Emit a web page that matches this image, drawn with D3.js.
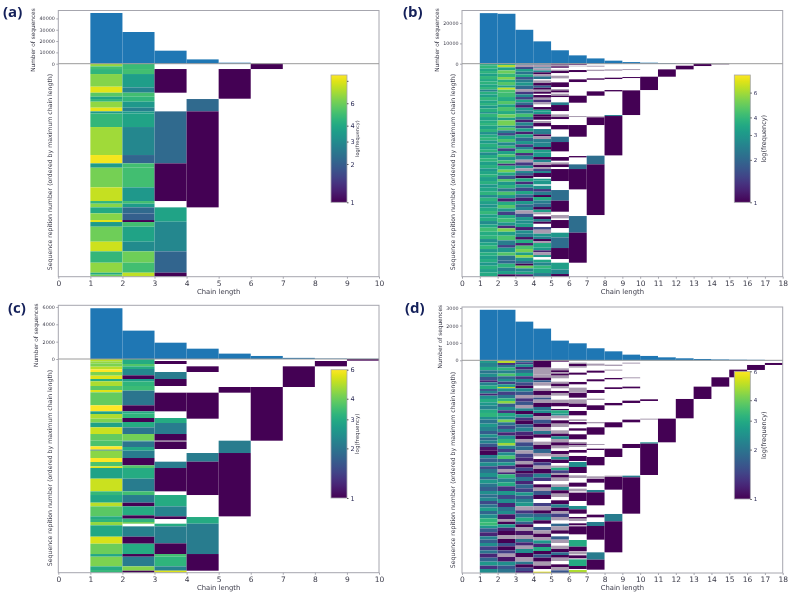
<!DOCTYPE html>
<html><head><meta charset="utf-8">
<script src="https://cdn.jsdelivr.net/npm/d3@7"></script>
<style>html,body{margin:0;padding:0;background:#fff}svg{display:block;filter:blur(0.45px)}</style>
</head><body><svg id="c" width="791" height="596"></svg>
<script>
const F = -1; // faint, sub-pixel stripes that read as pale lavender-grey
// ---- bars: number of sequences per chain length (chain length 1, 2, ...)
const barsA = [44800,28000,11500,3800,900,60];
const barsB = [24900,24600,16700,11000,6600,4100,2600,1500,800,500,300,150,80,40];
const barsC = [5850,3270,1880,1190,620,350,130,50,25];
const barsD = [2900,2900,2220,1820,1130,975,690,515,325,250,170,115,75,50,35,28,15];
// ---- heat columns: runs of [last row, frequency]; 0 = empty
const a1 = [[8,7],[16,5],[31,4.5],[69,6.5],[87,9],[99,5.5],[106,3.8],[114,4.5],[132,6.8],[143,9.2],[149,3.4],[190,4.6],[274,7.2],[299,9.6],[312,3.5],[371,6.2],[412,8.2],[420,4.5],[431,6.6],[449,4],[469,6.6],[475,9],[489,3.5],[534,6],[563,8.4],[597,4.6],[627,6.8],[633,4],[639,6]];
const a2 = [[16,4.8],[31,5],[71,3.6],[87,2.8],[99,5],[114,4.5],[132,3.4],[143,2.7],[149,3.5],[190,3.8],[274,2.9],[299,2.1],[312,5],[371,5],[412,3.4],[420,5],[431,3.5],[449,2.2],[469,2],[475,1],[489,5],[534,3.8],[563,3],[597,6],[627,5],[639,8]];
const a3 = [[16,0],[87,1],[143,0],[299,2.2],[412,1],[431,0],[474,3.8],[563,2.9],[627,2.1],[639,1]];
const a4 = [[106,0],[143,2.2],[431,1],[639,0]];
const a5 = [[16,0],[105,1],[639,0]];
const a6 = [[16,1],[639,0]];
const b1 = [[6,3.6],[14,3.9],[22,3.4],[30,3.8],[37,3.2],[46,3.9],[53,3.5],[62,3.8],[70,3.4],[78,3.9],[84,2.5],[92,3.7],[100,3.2],[110,3.9],[118,3.4],[126,3.8],[134,3],[145,3.7],[150,2.8],[160,3.9],[170,3.3],[178,3.6],[186,3.9],[196,3.3],[205,3.8],[213,2.8],[222,3.6],[230,3.9],[240,3.1],[250,3.7],[258,3.3],[266,3.8],[274,2.7],[284,3.5],[294,3.9],[304,3.2],[314,3.7],[322,3],[332,3.4],[340,3.8],[352,3.2],[362,3.7],[372,3],[384,3.4],[394,3.8],[402,2.6],[412,3.8],[422,3.2],[432,2.9],[442,3.5],[452,4],[462,3.2],[472,3.6],[482,2.7],[492,3.4],[504,4.2],[516,3.6],[526,3.9],[536,2.8],[546,3.4],[556,4],[566,3],[576,3.7],[586,3.2],[596,3.6],[606,3],[616,3.7],[626,3.2],[639,3.5]];
const b2 = [[4,3.6],[11,6.2],[20,3.3],[30,5],[40,4],[48,5.4],[55,3.7],[65,4.6],[72,3.3],[78,6.5],[86,4.4],[100,4.2],[112,3.6],[122,4.6],[130,3.3],[142,4.4],[152,3.6],[162,5],[170,3.2],[186,5.2],[192,3],[200,4.6],[208,2.4],[216,1.6],[226,3.4],[236,4.4],[246,2.6],[254,4],[262,1.5],[272,3.3],[280,4.4],[290,2.8],[300,4.2],[306,1.3],[318,3.6],[326,5.2],[336,3.5],[346,1.8],[354,4.6],[364,3],[374,3.8],[384,2.2],[394,4.4],[404,3],[414,1.2],[424,3.6],[434,4.6],[444,3],[454,1.5],[464,3.6],[476,4.2],[486,3],[494,1.3],[504,5.4],[516,3.2],[530,4.4],[544,2.4],[552,1.5],[566,3],[576,4.6],[590,2.2],[600,2],[612,3.8],[622,2.4],[632,3.2],[639,1]];
const b3 = [[3,2.2],[10,F],[16,1.6],[24,3.2],[32,2.2],[40,3.4],[48,1.7],[56,2.4],[66,3],[76,2],[84,F],[92,1.4],[100,2.6],[108,1.5],[116,3.4],[124,2],[132,1.2],[140,3],[150,2.5],[160,4.3],[168,2.4],[176,1.2],[186,2.6],[194,1.5],[204,3.2],[212,1.2],[222,3.4],[232,2],[242,3],[250,1.4],[258,2.6],[268,4.2],[276,1.3],[288,2.5],[296,F],[306,1.4],[314,2.8],[322,F],[328,2.6],[336,1.8],[344,1],[354,3.5],[362,1.3],[372,3],[382,1.6],[392,3.4],[402,2],[412,1.2],[422,3],[430,2],[440,2.6],[450,F],[460,1.7],[470,3],[480,2.8],[490,3.2],[500,1.2],[510,2.8],[520,2.4],[528,1.1],[538,3.6],[546,1.2],[556,4.4],[566,5.2],[574,3.2],[582,5.6],[592,3],[600,2],[606,1],[614,5],[624,2.5],[632,3.4],[639,1.2]];
const b4 = [[3,2],[11,F],[14,2.2],[20,F],[26,2.6],[32,1],[38,F],[46,2.2],[50,0],[58,F],[66,1],[72,2],[78,1],[84,F],[90,1],[94,0],[102,1],[108,F],[116,1.3],[122,F],[130,0],[138,1],[144,3.3],[152,3],[158,1],[168,1],[172,0],[178,F],[188,1],[196,0],[202,2.5],[212,2.4],[218,1],[226,F],[236,2.4],[250,2.6],[258,1],[266,3.2],[280,3],[288,1],[296,2.6],[304,F],[310,1],[316,F],[322,1.5],[328,2.6],[340,1],[345,0],[350,3],[362,3],[366,0],[376,2.8],[384,1.4],[394,2.4],[400,1],[410,3.6],[420,2.4],[430,2],[438,1],[446,3.2],[452,F],[458,0],[466,1],[474,2.4],[480,1],[490,0],[498,1.6],[510,F],[518,3],[526,2.5],[532,1],[538,F],[552,3.5],[560,3],[566,1.2],[574,F],[580,3],[588,0],[596,3.4],[606,2.6],[614,4],[628,3.4],[639,2.4]];
const b5 = [[3,1],[8,F],[12,1],[18,0],[22,F],[28,1],[36,0],[44,F],[56,0],[70,1],[76,0],[80,F],[86,1],[90,0],[96,F],[100,1],[116,0],[124,2.4],[142,1],[152,0],[160,F],[166,1],[184,0],[197,1],[219,0],[235,2.1],[263,1],[280,0],[291,1],[296,0],[302,F],[310,1],[316,0],[352,1],[379,0],[411,2.1],[444,1],[454,0],[464,F],[469,0],[493,1],[507,0],[521,3],[553,2.1],[586,1],[597,0],[617,3.2],[631,2.6],[639,1]];
const b6 = [[3,1],[6,0],[8,F],[19,0],[25,1],[47,0],[55,1],[96,0],[117,1],[157,0],[160,F],[184,0],[219,1],[277,0],[281,1],[302,0],[316,2.1],[377,1],[457,0],[507,2.1],[597,1],[639,0]];
const b7 = [[6,0],[9,F],[18,0],[22,F],[44,0],[48,1],[83,0],[96,1],[158,0],[161,F],[184,1],[276,0],[302,2.1],[454,1],[639,0]];
const b8 = [[17,0],[21,F],[42,0],[46,1],[79,0],[83,1],[154,0],[157,2.4],[275,1],[639,0]];
const b9 = [[16,0],[19,F],[40,0],[43,1],[80,0],[154,1],[639,0]];
const b10 = [[39,0],[79,1],[639,0]];
const b11 = [[17,0],[39,1],[639,0]];
const b12 = [[6,0],[17,1],[639,0]];
const b13 = [[7,1],[639,0]];
const b14 = [[3,F],[639,0]];
const c1 = [[7,5],[13,4.5],[23,4.2],[31,5],[39,6],[50,4.2],[60,5.5],[67,3],[81,4.8],[93,3.8],[100,5.5],[139,3.9],[157,6],[165,2.8],[179,4.8],[191,4.2],[205,2.8],[225,5.2],[245,3.9],[262,3.6],[272,6],[275,2],[297,4.4],[309,6],[322,3.6],[327,5.5],[359,2.8],[397,5.2],[408,3.3],[431,2.9],[442,5],[472,3.8],[480,3],[489,3.2],[499,4.5],[533,2.9],[554,5.4],[585,4],[593,2.9],[622,4.2],[633,3],[641,3.3]];
const c2 = [[15,3],[22,3.7],[30,3],[49,2.3],[60,1],[67,2.7],[81,3.2],[95,3.4],[139,2],[157,1],[164,3],[177,3.2],[189,1],[205,3],[225,2],[245,4.1],[247,3],[264,2],[275,2.9],[297,2.1],[319,1],[327,3.7],[359,3],[397,2.1],[408,3.5],[431,2.1],[442,1],[469,3],[479,1],[489,3.2],[494,4],[502,0],[533,2.2],[554,1],[585,3],[593,1],[622,2.1],[635,4.3],[641,1]];
const c3 = [[6,0],[15,1],[39,0],[60,2.1],[81,1],[101,0],[157,1],[177,0],[192,3],[225,2.1],[245,1],[248,F],[270,1],[308,0],[327,2.1],[397,1],[408,0],[442,3],[472,2.2],[480,1],[494,0],[502,3],[553,2.1],[585,1],[593,3.5],[622,3.2],[635,2.2],[641,5.5]];
const c4 = [[22,0],[39,1],[101,0],[179,1],[282,0],[308,2.1],[408,1],[474,0],[494,3],[585,2.1],[635,1],[641,0]];
const c5 = [[84,0],[101,1],[245,0],[282,2.1],[472,1],[641,0]];
const c6 = [[84,0],[245,1],[641,0]];
const c7 = [[22,0],[84,1],[641,0]];
const c8 = [[6,0],[22,1],[641,0]];
const c9 = [[5,1],[641,0]];
const d1 = [[8,2.6],[20,2.2],[30,2.9],[40,2],[50,2.4],[60,1.6],[66,1.2],[76,2.2],[86,3],[92,1.6],[100,2.2],[106,1.2],[116,2.4],[126,3],[136,2.6],[148,2.2],[158,3],[170,3.2],[178,2.4],[190,2],[200,2.6],[212,2.2],[222,1.7],[232,2.5],[240,1.8],[250,2.2],[260,1.6],[270,1.1],[284,1],[294,2.2],[306,1.7],[318,2.4],[326,1.5],[338,2],[350,2.5],[358,1.8],[370,2.6],[380,2],[392,1.7],[402,2.4],[412,1.9],[422,2.3],[432,1.5],[442,2],[452,2.7],[462,1.8],[474,2.4],[486,3.2],[496,3.4],[504,2.6],[516,1.7],[528,1.2],[538,2.2],[548,1.7],[558,2.4],[570,1.4],[580,2],[592,1.2],[604,1.8],[616,2.6],[626,1.3],[638,2.4]];
const d2 = [[2,2],[8,5],[14,1.3],[22,2],[30,3.2],[40,2.2],[48,3.6],[56,1.8],[64,2.4],[72,1.4],[80,2.6],[84,5],[94,2.5],[104,1.4],[114,2],[122,3.2],[130,4.4],[140,1.7],[150,2.4],[158,1.3],[168,3],[178,2.4],[186,4.2],[196,2],[206,1.5],[216,2.2],[226,1.2],[236,2.4],[248,3.2],[256,4.6],[266,2.2],[276,1.4],[286,2.4],[296,3.6],[306,1.7],[316,2.6],[326,1.3],[336,F],[342,1.2],[354,3.2],[366,2.2],[378,3],[392,1.3],[404,2.6],[416,1.5],[428,2.4],[440,1.2],[452,2],[462,2.4],[476,1.1],[484,F],[492,1],[502,2.6],[512,1.2],[524,1],[536,F],[548,1],[558,1.6],[570,1],[580,1.4],[590,F],[604,1.1],[616,2.4],[626,1.6],[638,2]];
const d3c = [[6,2],[12,1.4],[20,2.4],[28,1.2],[38,1.9],[48,2.8],[56,1.3],[66,2.2],[76,1.5],[84,1],[94,2.3],[104,1.6],[114,F],[124,1.3],[134,1.6],[144,F],[152,2.2],[162,1],[172,2.4],[180,1.3],[192,1],[202,1.7],[214,2.2],[226,1.2],[236,1],[246,F],[258,1.5],[270,1.9],[280,F],[292,1.4],[302,1.2],[312,F],[322,1],[332,1.5],[340,1],[350,1.3],[362,2],[372,1.2],[384,1.8],[396,1.4],[406,2.6],[416,1.6],[426,2.2],[438,2.6],[450,F],[460,1.3],[472,1.9],[484,3],[492,1.7],[500,1],[512,F],[524,1.1],[536,F],[546,2],[556,1.2],[566,F],[578,2.4],[590,1],[604,F],[612,2],[622,1],[632,1.5],[638,1.2]];
const d4 = [[22,1],[42,F],[52,F],[60,1],[66,1.7],[76,F],[84,0],[92,F],[104,1],[112,F],[118,1.6],[128,F],[140,1],[150,2],[158,2.4],[168,1],[178,F],[190,1.6],[200,1],[212,F],[222,2],[232,1],[244,0],[254,F],[266,1],[278,1.8],[288,F],[296,0],[306,1],[316,1.4],[326,F],[340,1],[352,2.2],[362,1.3],[372,0],[382,1],[392,F],[404,1.6],[416,1],[428,0],[438,1.4],[450,F],[460,1],[470,1.8],[480,2.4],[490,1],[500,0],[510,1.6],[520,F],[530,1],[540,F],[550,2.6],[560,1.2],[572,3],[582,1],[592,1.7],[604,1],[616,F],[626,1],[634,0],[638,5.6]];
const d5 = [[4,1],[24,0],[30,F],[36,1],[40,F],[46,1],[54,F],[64,0],[70,F],[78,1],[84,F],[92,0],[98,1],[106,F],[118,0],[128,F],[138,1],[146,0],[150,1],[160,3],[166,2.4],[174,F],[180,0],[190,1],[200,F],[210,0],[220,F],[228,1],[236,2.4],[246,F],[256,1],[264,F],[272,0],[282,1],[290,F],[298,2.4],[308,1],[316,0],[322,F],[330,3],[338,1.4],[344,F],[352,1],[362,F],[372,0],[380,F],[390,2.4],[400,1],[410,F],[420,0],[432,1],[442,2.2],[452,1],[460,F],[470,1.4],[480,F],[490,0],[498,1.8],[510,F],[520,1],[528,0],[538,1.7],[548,F],[556,0],[566,F],[576,1],[584,1.9],[592,1],[602,F],[612,0],[620,1],[630,F],[638,1.6]];
const d6 = [[7,0],[11,F],[18,1],[22,F],[37,0],[43,1],[65,0],[72,1],[82,0],[95,F],[97,0],[112,1],[117,0],[130,F],[140,1],[152,0],[165,1],[177,0],[182,F],[185,0],[192,1],[204,0],[211,1],[222,0],[237,1],[245,0],[250,F],[255,1],[260,F],[269,0],[277,1],[287,0],[302,1],[305,0],[320,2.4],[338,1],[345,0],[353,F],[367,0],[379,1],[385,0],[393,F],[397,0],[422,1],[437,0],[447,2.4],[460,1],[470,0],[475,1],[482,F],[489,0],[495,1],[498,0],[522,1],[539,0],[559,3],[573,1],[575,0],[582,F],[585,0],[594,1],[597,0],[617,3],[626,1],[629,0],[637,4.8],[638,1]];
const d7 = [[10,0],[16,F],[31,0],[37,1],[57,0],[63,1],[89,0],[98,1],[115,0],[119,F],[135,0],[149,1],[185,0],[189,F],[201,0],[223,1],[251,0],[254,F],[265,0],[269,1],[290,0],[315,1],[348,0],[353,F],[355,0],[367,1],[389,0],[396,2.1],[435,1],[463,0],[471,1],[485,0],[497,2.1],[538,1],[576,0],[598,2.1],[628,1],[638,0]];
const d8 = [[13,0],[17,F],[28,0],[31,F],[53,0],[57,1],[81,0],[86,1],[128,0],[135,1],[186,0],[201,1],[265,0],[290,1],[346,0],[350,F],[388,1],[461,0],[483,2.1],[576,1],[638,0]];
const d9 = [[7,0],[10,F],[51,0],[54,F],[79,0],[84,1],[121,0],[128,1],[178,0],[186,1],[251,0],[263,1],[346,0],[351,2.1],[460,1],[638,0]];
const d10 = [[117,0],[122,1],[175,0],[178,F],[246,0],[250,2.4],[344,1],[638,0]];
const d11 = [[175,0],[246,1],[638,0]];
const d12 = [[116,0],[174,1],[638,0]];
const d13 = [[79,0],[116,1],[638,0]];
const d14 = [[51,0],[79,1],[638,0]];
const d15 = [[28,0],[51,1],[638,0]];
const d16 = [[14,0],[29,1],[638,0]];
const d17 = [[8,0],[14,1],[638,0]];
// ---- tick labels
const barTicksA = [0,10000,20000,30000,40000];
const barTicksB = [0,10000,20000];
const barTicksC = [0,2000,4000,6000];
const barTicksD = [0,1000,2000,3000];
const cbarTicks = [1,2,3,4,6];

const FONT = "'DejaVu Sans',sans-serif", TXT = "#3a3a48", SPINE = "#a6a6ae";
const panels = [
 {id:"a",lx:3,ly:17,L:58.3,R:379,T:10.5,Z:63.7,B:276.7,xMax:10,rows:639,barMax:47000,bars:barsA,ticks:barTicksA,cols:[a1,a2,a3,a4,a5,a6],vmax:10,cx:331,cT:75,cB:202.3,lfs:5,tickExtra:[9],nyl:34.5,syl:52,sc:172},
 {id:"b",lx:403,ly:17,L:462,R:782.7,T:10.5,Z:63.7,B:276.7,xMax:18,rows:639,barMax:26200,bars:barsB,ticks:barTicksB,cols:[b1,b2,b3,b4,b5,b6,b7,b8,b9,b10,b11,b12,b13,b14],vmax:8,cx:734.3,cT:75,cB:202.3,lfs:6.5,tickExtra:[],nyl:438.5,syl:455,sc:172},
 {id:"c",lx:8,ly:313,L:58.3,R:379,T:305.3,Z:359,B:572.7,xMax:10,rows:641,barMax:6190,bars:barsC,ticks:barTicksC,cols:[c1,c2,c3,c4,c5,c6,c7,c8,c9],vmax:6,cx:331,cT:369.7,cB:498,lfs:5.5,tickExtra:[],nyl:38,syl:51.5,sc:468},
 {id:"d",lx:405,ly:313,L:462,R:782.7,T:307,Z:360.3,B:573,xMax:18,rows:638,barMax:3060,bars:barsD,ticks:barTicksD,cols:[d1,d2,d3c,d4,d5,d6,d7,d8,d9,d10,d11,d12,d13,d14,d15,d16,d17],vmax:6,cx:734.3,cT:371.3,cB:499,lfs:6.5,tickExtra:[],nyl:441.5,syl:455,sc:470}
];
const svg = d3.select("#c");
const defs = svg.append("defs");
const grad = defs.append("linearGradient").attr("id","vir").attr("x1",0).attr("x2",0).attr("y1",1).attr("y2",0);
d3.range(0,1.0001,0.05).forEach(t=>grad.append("stop").attr("offset",t).attr("stop-color",d3.interpolateViridis(t)));

panels.forEach(p=>{
  const g = svg.append("g");
  const x = d3.scaleLinear().domain([0,p.xMax]).range([p.L,p.R]);
  const yBar = d3.scaleLinear().domain([0,p.barMax]).range([p.Z,p.T]);
  const yRow = d3.scaleLinear().domain([0,p.rows]).range([p.Z,p.B]);
  const norm = d3.scaleLog().domain([1,p.vmax]).range([0,1]);
  // bars
  g.append("g").selectAll("rect").data(p.bars).join("rect")
    .attr("x",(d,i)=>x(i+1)).attr("width",(d,i)=>x(i+2)-x(i+1))
    .attr("y",d=>yBar(d)).attr("height",d=>yBar(0)-yBar(d)).attr("fill","#1f77b4");
  // heat columns
  p.cols.forEach((col,ci)=>{
    let prev = 0;
    col.forEach(([end,v])=>{
      if(v!==0){
        g.append("rect").attr("x",x(ci+1)).attr("width",x(ci+2)-x(ci+1))
          .attr("y",yRow(prev)).attr("height",Math.max(0,yRow(end)-yRow(prev)))
          .attr("fill",v===F?"#a99bb0":d3.interpolateViridis(Math.min(1,norm(v))));
      }
      prev = end;
    });
  });
  // frame and zero line
  g.append("rect").attr("x",p.L).attr("y",p.T).attr("width",p.R-p.L).attr("height",p.B-p.T)
    .attr("fill","none").attr("stroke",SPINE).attr("stroke-width",1);
  g.append("line").attr("x1",p.L).attr("x2",p.R).attr("y1",p.Z).attr("y2",p.Z).attr("stroke","#9a9a9a").attr("stroke-width",1);
  // axes
  const ax = g.append("g").attr("transform",`translate(0,${p.B})`)
    .call(d3.axisBottom(x).tickValues(d3.range(0,p.xMax+1)).tickFormat(d3.format("d")).tickSize(2).tickPadding(1.5));
  ax.select(".domain").remove();
  ax.selectAll("line").attr("stroke",SPINE);
  ax.selectAll("text").attr("font-family",FONT).attr("font-size",7.5).attr("fill",TXT);
  const ay = g.append("g").attr("transform",`translate(${p.L},0)`)
    .call(d3.axisLeft(yBar).tickValues(p.ticks).tickFormat(d3.format("d")).tickSize(2).tickPadding(1.5));
  ay.select(".domain").remove();
  ay.selectAll("line").attr("stroke",SPINE);
  ay.selectAll("text").attr("font-family",FONT).attr("font-size",4.8).attr("fill",TXT);
  // axis titles
  g.append("text").attr("x",(p.L+p.R)/2).attr("y",p.B+17).attr("text-anchor","middle")
    .attr("font-family",FONT).attr("font-size",6.8).attr("fill",TXT).text("Chain length");
  g.append("text").attr("transform",`translate(${p.nyl},${(p.T+p.Z)/2+p.T*0+3}) rotate(-90)`).attr("text-anchor","middle")
    .attr("font-family",FONT).attr("font-size",5.8).attr("fill",TXT).text("Number of sequences");
  g.append("text").attr("transform",`translate(${p.syl},${p.sc}) rotate(-90)`).attr("text-anchor","middle")
    .attr("font-family",FONT).attr("font-size",6.2).attr("fill",TXT).text("Sequence repition number (ordered by maximum chain length)");
  // colour bar
  const cw = 16;
  const cs = d3.scaleLog().domain([1,p.vmax]).range([p.cB,p.cT]);
  g.append("rect").attr("x",p.cx).attr("y",p.cT).attr("width",cw).attr("height",p.cB-p.cT)
    .attr("fill","url(#vir)").attr("stroke",SPINE).attr("stroke-width",0.8);
  const cg = g.append("g").attr("transform",`translate(${p.cx+cw},0)`)
    .call(d3.axisRight(cs).tickValues(cbarTicks.concat(p.tickExtra)).tickFormat(d=>cbarTicks.includes(d)?d:"").tickSize(1.5).tickPadding(2));
  cg.select(".domain").remove();
  cg.selectAll("line").attr("stroke","#555");
  cg.selectAll("text").attr("font-family",FONT).attr("font-size",p.lfs>6?5.5:6.5).attr("fill","#2a2a55");
  g.append("text").attr("transform",`translate(${p.cx+cw+(p.lfs>6?16:12)},${(p.cT+p.cB)/2+(p.id==="a"?0:0)}) rotate(-90)`)
    .attr("text-anchor","middle").attr("font-family",FONT).attr("font-size",p.lfs).attr("fill",TXT).text("log(frequency)");
  // panel letter
  g.append("text").attr("x",p.lx).attr("y",p.ly).attr("font-family","'Open Sans',sans-serif").attr("font-weight",700)
    .attr("font-size",15).attr("fill","#14205a").text(`(${p.id})`);
});
</script></body></html>
